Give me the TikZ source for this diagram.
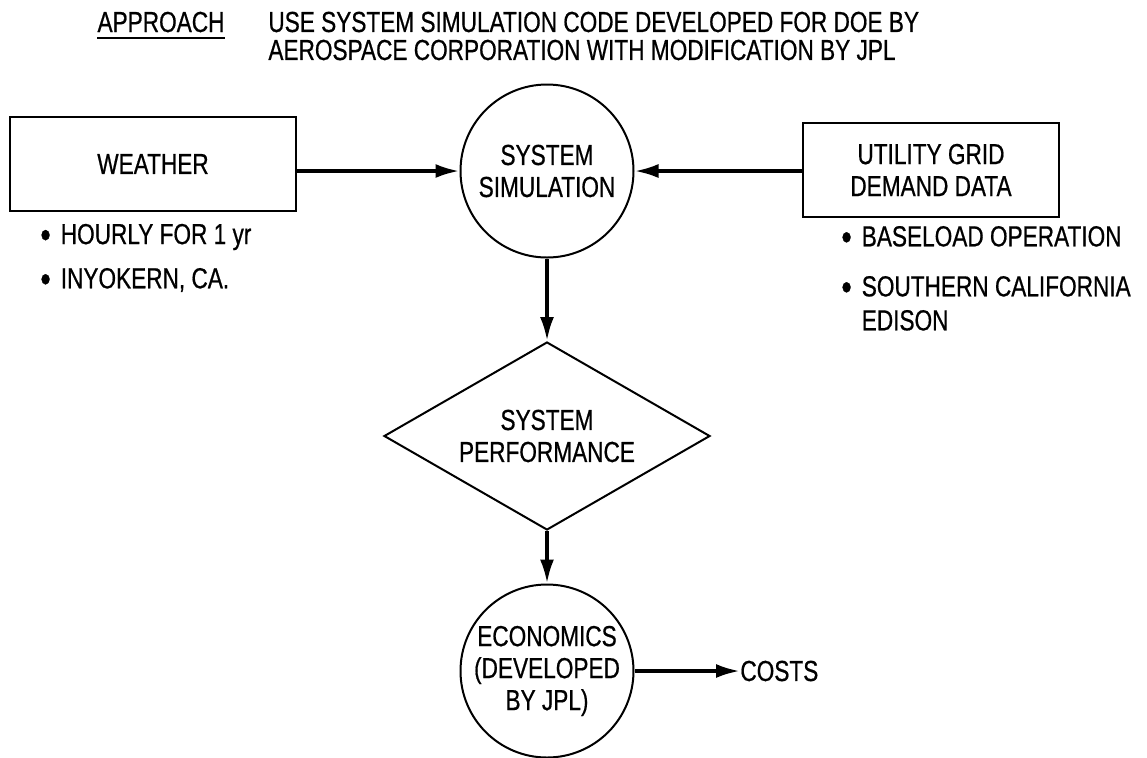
\documentclass[tikz,border=0pt]{standalone}
\usepackage{fontspec}
\setmainfont{Liberation Sans}[FakeStretch=0.78,FakeBold=0.6]
\usetikzlibrary{shapes.geometric,arrows.meta}

\newcommand{\dotmark}{\raisebox{-1.8pt}{\fontsize{19}{16}\selectfont\textbullet}\hspace{5pt}}

\begin{document}
\begin{tikzpicture}[x=0.5pt,y=-0.5pt,
	every node/.style={font=\fontsize{14.5}{16}\selectfont,align=center},
	block/.style={shape=rectangle,draw=black,line width=1.1pt,minimum width=#1,minimum height=47pt},
	round/.style={shape=circle,draw=black,line width=1pt,minimum size=86.5pt,inner sep=0pt},
	note/.style={anchor=west,align=left,inner sep=0pt},
	flow/.style={-{Latex[length=12pt,width=7pt]},line width=1.8pt}]
	\useasboundingbox (0,0) rectangle (1147,757);

        \node[anchor=base,inner sep=0pt] (approach) at (161,32)     {APPROACH};
        \node[note,font=\fontsize{14.5}{14}\selectfont] (aim) at (268,36)     {USE SYSTEM SIMULATION CODE DEVELOPED FOR DOE BY\\AEROSPACE CORPORATION WITH MODIFICATION BY JPL};
        \node[block=143pt] (weather) at (153,164)     {WEATHER};
        \node[note] (hourly) at (40,237)     {\dotmark HOURLY FOR 1 yr};
        \node[note] (site) at (40,280)     {\dotmark INYOKERN, CA.};
        \node[round] (sim) at (547,171)     {SYSTEM\\SIMULATION};
        \node[block=128pt] (grid) at (931,170)     {UTILITY GRID\\DEMAND DATA};
        \node[note] (base) at (841,238)     {\dotmark BASELOAD OPERATION};
        \node[note,font=\fontsize{14.5}{17}\selectfont] (edison) at (841,305)     {\dotmark SOUTHERN CALIFORNIA\\\phantom{\dotmark}EDISON};
        \node[shape=diamond,draw=black,line width=1pt,aspect=1.73,minimum width=163pt,minimum height=94pt,inner sep=0pt] (perf) at (547,436)     {SYSTEM\\PERFORMANCE};
        \node[round] (econ) at (547,671)     {ECONOMICS\\(DEVELOPED\\BY JPL)};
        \node[note] (costs) at (740,671)     {COSTS};

	\draw[line width=1pt] ([yshift=-3pt]approach.base west) -- ([yshift=-3pt]approach.base east);
	\path[flow] (weather.east |- sim.west) edge (sim.west);
	\path[flow] (grid.west |- sim.east) edge (sim.east);
	\path[flow] (sim) edge (perf);
	\path[flow] (perf) edge (econ);
	\path[flow] (econ) edge (costs);
	\end{tikzpicture}
\end{document}
